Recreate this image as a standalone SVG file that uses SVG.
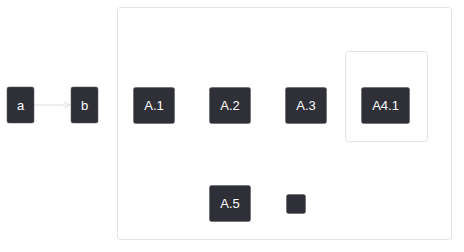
<svg xmlns="http://www.w3.org/2000/svg" width="464" height="252" viewBox="0 0 464 252">
<style>
.n{fill:#2e2f37;stroke:#55565c;stroke-width:0.5}
.c{fill:#ffffff;stroke:#e2e2e2;stroke-width:1}
.t{fill:#ffffff;font-family:"Liberation Sans",Arial,sans-serif;font-size:13px;text-anchor:middle;dominant-baseline:central}
.e{fill:none;stroke:#dedede;stroke-width:1}
</style>
<defs>
<marker id="ah" viewBox="0 0 10 10" refX="9" refY="5" markerWidth="8" markerHeight="8" orient="auto" markerUnits="userSpaceOnUse">
<path d="M1,1 L9,5 L1,9" fill="none" stroke="#dedede" stroke-width="1.2"/>
</marker>
</defs>
<rect width="464" height="252" fill="#ffffff"/>
<g id="A"><rect class="c" x="117.5" y="7.5" width="334" height="232" rx="3"/></g>
<g id="A4"><rect class="c" x="345.5" y="51.5" width="82" height="90" rx="3"/></g>
<g id="connectors">
<path class="e" d="M34,105 L70,105" marker-end="url(#ah)"/>
</g>
<g id="a"><rect class="n" x="7" y="87" width="27" height="36" rx="2"/><text class="t" x="20.5" y="105.5">a</text></g>
<g id="b"><rect class="n" x="71" y="87" width="27" height="36" rx="2"/><text class="t" x="84.5" y="105.5">b</text></g>
<g id="A.1"><rect class="n" x="133.5" y="87.5" width="41" height="36" rx="2"/><text class="t" x="154" y="105.5">A.1</text></g>
<g id="A.2"><rect class="n" x="209.5" y="87.5" width="41" height="36" rx="2"/><text class="t" x="230" y="105.5">A.2</text></g>
<g id="A.3"><rect class="n" x="285.5" y="87.5" width="41" height="36" rx="2"/><text class="t" x="306" y="105.5">A.3</text></g>
<g id="A4.1"><rect class="n" x="361.5" y="87.5" width="48" height="36" rx="2"/><text class="t" x="385.5" y="105.5">A4.1</text></g>
<g id="A.5"><rect class="n" x="209.5" y="185.5" width="41" height="36" rx="2"/><text class="t" x="230" y="203.5">A.5</text></g>
<g id="A.6"><rect class="n" x="286.5" y="194.5" width="19" height="19" rx="2"/></g>
</svg>
